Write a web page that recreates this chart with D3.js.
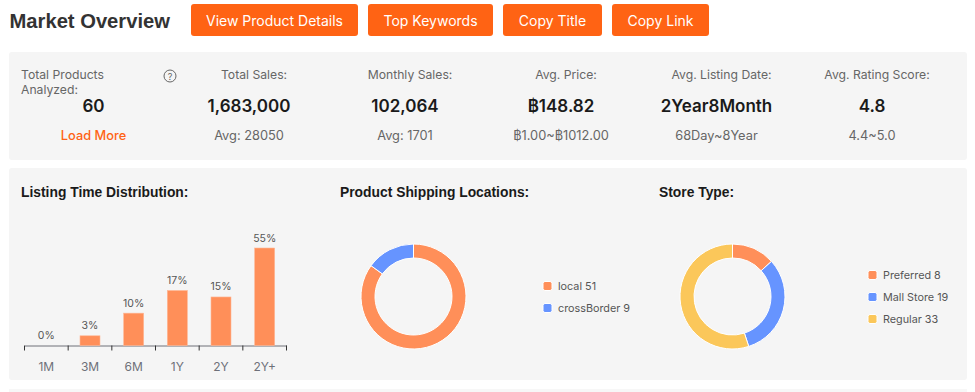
<!DOCTYPE html>
<html lang="en">
<head>
<meta charset="UTF-8">
<title>Market Overview</title>
<script src="https://d3js.org/d3.v7.min.js"></script>
<style>
    html, body { margin: 0; padding: 0; background: #fff; overflow: hidden; }
    svg { display: block; font-family: Inter, "Liberation Sans", "DejaVu Sans", sans-serif; }
</style>
</head>
<body>
<svg id="chart" width="975" height="392"></svg>
<script>
const buttonLabels = ["View Product Details", "Top Keywords", "Copy Title", "Copy Link"];
const statTitles = ["Total Sales:", "Monthly Sales:", "Avg. Price:", "Avg. Listing Date:", "Avg. Rating Score:"];
const statValues = ["60", "1,683,000", "102,064", "฿148.82", "2Year8Month", "4.8"];
const statSubs = ["Load More", "Avg: 28050", "Avg: 1701", "฿1.00~฿1012.00", "68Day~8Year", "4.4~5.0"];

const listingLabels = ["1M", "3M", "6M", "1Y", "2Y", "2Y+"];
const listingPercents = [0, 3, 10, 17, 15, 55];

const shippingNames = ["local", "crossBorder"];
const shippingCounts = [51, 9];
const storeNames = ["Preferred", "Mall Store", "Regular"];
const storeCounts = [8, 19, 33];

const orange = "#ff8f59", blue = "#6694ff", yellow = "#fbc75a", brand = "#ff6314", panel = "#f5f5f5";

const svg = d3.select("#chart");

function label(parent, x, y, text, size, color, weight, anchor) {
    return parent.append("text")
        .attr("x", x).attr("y", y)
        .attr("dominant-baseline", "central")
        .attr("text-anchor", anchor || "start")
        .attr("font-size", size)
        .attr("font-weight", weight || 400)
        .attr("fill", color)
        .text(text);
}

// header
label(svg, 9.5, 21, "Market Overview", 20.2, "#333", 700).attr("font-family", "Liberation Sans");

const buttonBoxes = [[191, 167], [368, 125], [503, 99], [612, 97]];
buttonLabels.forEach((t, i) => {
    const [x, w] = buttonBoxes[i];
    svg.append("rect").attr("x", x).attr("y", 4).attr("width", w).attr("height", 32).attr("rx", 3).attr("fill", brand);
    label(svg, x + w / 2, 20, t, 14, "#fff", 400, "middle");
});

// panels
svg.append("rect").attr("x", 9).attr("y", 52).attr("width", 958).attr("height", 108).attr("rx", 3).attr("fill", panel);
svg.append("rect").attr("x", 9).attr("y", 168).attr("width", 958).attr("height", 212).attr("rx", 3).attr("fill", panel);
svg.append("rect").attr("x", 9).attr("y", 389).attr("width", 958).attr("height", 6).attr("fill", "#f7f7f7");

// stats row
label(svg, 21, 74.5, "Total Products", 12.2, "#666");
label(svg, 21, 89.5, "Analyzed:", 12.2, "#666");
svg.append("circle").attr("cx", 170).attr("cy", 76).attr("r", 6).attr("fill", "none").attr("stroke", "#666");
label(svg, 170, 76.5, "?", 9, "#666", 400, "middle");

const statX = [93.5, 249, 405, 561, 716.5, 872];
statValues.forEach((v, i) => {
    label(svg, statX[i], 106, v, 17, "#1a1a1a", 600, "middle");
    label(svg, statX[i], 135, statSubs[i], 12.8, i === 0 ? brand : "#666", i === 0 ? 500 : 400, "middle");
    if (i > 0) label(svg, statX[i] + 5, 74.5, statTitles[i - 1], 12.2, "#666", 400, "middle");
});

// section titles
label(svg, 21, 192, "Listing Time Distribution:", 13.85, "#1a1a1a", 700).attr("font-family", "Liberation Sans");
label(svg, 340, 192, "Product Shipping Locations:", 13.85, "#1a1a1a", 700).attr("font-family", "Liberation Sans");
label(svg, 659, 192, "Store Type:", 13.85, "#1a1a1a", 700).attr("font-family", "Liberation Sans");

// bars, the source chart compresses the tallest bar so the scale has a knee
const x = d3.scaleBand().domain(listingLabels).range([24.5, 286.5]);
const y = d3.scaleLinear().domain([0, 17, 55]).range([345.5, 290.5, 248]);

const xAxis = d3.axisBottom(x).tickSize(0).tickPadding(17);
const axisG = svg.append("g").attr("transform", "translate(0,345.5)").call(xAxis);
axisG.select(".domain").attr("stroke", "#6e7079");
axisG.selectAll("text").attr("font-size", 12).attr("fill", "#6e7079").attr("font-family", "Inter");

// ticks sit on the band edges rather than the centres
const edges = listingLabels.map(d => x(d)).concat([x.range()[1]]);
svg.selectAll(".edge").data(edges).enter().append("line")
    .attr("x1", d => d).attr("x2", d => d)
    .attr("y1", 345.5).attr("y2", 350.5)
    .attr("stroke", "#333");

const barW = 20;
listingLabels.forEach((name, i) => {
    const v = listingPercents[i];
    if (v > 0) {
        svg.append("rect")
            .attr("x", x(name) + x.bandwidth() / 2 - barW / 2)
            .attr("y", y(v))
            .attr("width", barW)
            .attr("height", y(0) - y(v))
            .attr("fill", orange)
            .attr("stroke", "#ffb796")
            .attr("stroke-width", 0.6);
    }
    label(svg, x(name) + x.bandwidth() / 2, y(v) - 10, v + "%", 10.5, "#555", 400, "middle");
});

// donuts
function donut(cx, names, counts, colors, legendX, legendY) {
    const pie = d3.pie().sort(null)(counts);
    const arc = d3.arc().innerRadius(38.5).outerRadius(52.5);
    const g = svg.append("g").attr("transform", `translate(${cx},296.5)`);
    g.selectAll("path").data(pie).enter().append("path")
        .attr("d", arc)
        .attr("fill", (d, i) => colors[i])
        .attr("stroke", "#fff")
        .attr("stroke-width", 1);

    names.forEach((n, i) => {
        const ly = legendY + i * 22;
        svg.append("rect").attr("x", legendX).attr("y", ly - 4.5).attr("width", 9).attr("height", 9)
            .attr("rx", 2).attr("fill", colors[i]).attr("stroke", "#fff");
        label(svg, legendX + 15, ly, n + " " + counts[i], 10.8, "#555");
    });
}

donut(413.5, shippingNames, shippingCounts, [orange, blue], 543, 286);
donut(732.5, storeNames, storeCounts, [orange, blue, yellow], 868, 275);
</script>
</body>
</html>
